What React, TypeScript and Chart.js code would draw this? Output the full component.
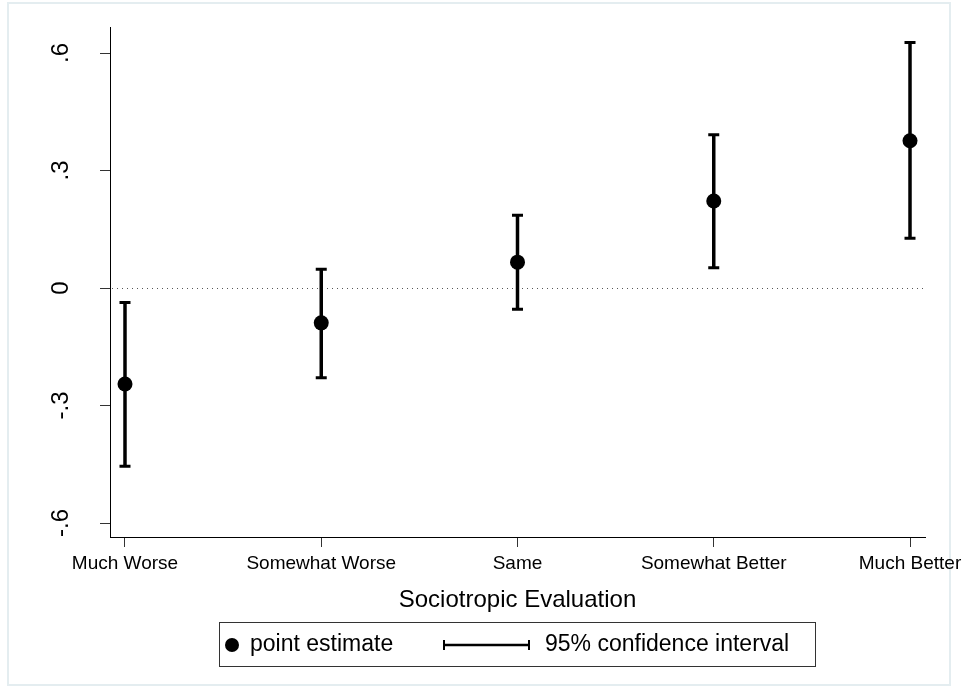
import React, { useEffect, useRef } from "react";
import { Chart, registerables } from "chart.js";

Chart.register(...registerables);

const categories = ["Much Worse", "Somewhat Worse", "Same", "Somewhat Better", "Much Better"];
const pointEstimates = [-0.245, -0.089, 0.066, 0.222, 0.376];
const ciLower = [-0.455, -0.229, -0.054, 0.052, 0.127];
const ciUpper = [-0.037, 0.048, 0.186, 0.391, 0.627];
const yTickValues = [-0.6, -0.3, 0, 0.3, 0.6];
const yTickLabels = ["-.6", "-.3", "0", ".3", ".6"];
const xAxisTitle = "Sociotropic Evaluation";
const legendLabels = ["point estimate", "95% confidence interval"];

const FONT = "'Liberation Sans', Arial, Helvetica, sans-serif";

const decorPlugin = {
  id: "decor",
  beforeDraw(chart: any) {
    const { ctx } = chart;
    ctx.save();
    ctx.fillStyle = "#fff";
    ctx.fillRect(0, 0, chart.width, chart.height);
    ctx.strokeStyle = "#e4edf0";
    ctx.lineWidth = 2;
    ctx.strokeRect(8, 3, 942, 682);
    ctx.restore();
  },
  beforeDatasetsDraw(chart: any) {
    const { ctx, chartArea, scales } = chart;
    const x = scales.x;
    const y = scales.y;
    ctx.save();
    // zero reference line
    ctx.strokeStyle = "#555";
    ctx.lineWidth = 1;
    ctx.setLineDash([1, 4]);
    const y0 = Math.round(y.getPixelForValue(0)) + 0.5;
    ctx.beginPath();
    ctx.moveTo(chartArea.left + 2, y0);
    ctx.lineTo(chartArea.right, y0);
    ctx.stroke();
    ctx.setLineDash([]);
    // confidence intervals
    ctx.strokeStyle = "#000";
    categories.forEach((_, i) => {
      const px = x.getPixelForValue(i);
      const pLo = y.getPixelForValue(ciLower[i]);
      const pHi = y.getPixelForValue(ciUpper[i]);
      ctx.lineWidth = 3.5;
      ctx.beginPath();
      ctx.moveTo(px, pLo);
      ctx.lineTo(px, pHi);
      ctx.stroke();
      ctx.lineWidth = 3;
      ctx.beginPath();
      ctx.moveTo(px - 5.5, pLo);
      ctx.lineTo(px + 5.5, pLo);
      ctx.moveTo(px - 5.5, pHi);
      ctx.lineTo(px + 5.5, pHi);
      ctx.stroke();
    });
    ctx.restore();
  },
  afterDraw(chart: any) {
    const { ctx, chartArea } = chart;
    ctx.save();
    // axis title
    ctx.fillStyle = "#000";
    ctx.font = `24px ${FONT}`;
    ctx.textAlign = "center";
    ctx.textBaseline = "middle";
    ctx.fillText(xAxisTitle, (chartArea.left + chartArea.right) / 2, 600);
    // legend box
    ctx.fillStyle = "#fff";
    ctx.fillRect(219.5, 622.5, 596, 44);
    ctx.strokeStyle = "#333";
    ctx.lineWidth = 1;
    ctx.strokeRect(219.5, 622.5, 596, 44);
    const ly = 645;
    ctx.fillStyle = "#000";
    ctx.beginPath();
    ctx.arc(232, ly, 7, 0, Math.PI * 2);
    ctx.fill();
    ctx.strokeStyle = "#000";
    ctx.lineWidth = 2.5;
    ctx.beginPath();
    ctx.moveTo(443, ly);
    ctx.lineTo(530, ly);
    ctx.stroke();
    ctx.lineWidth = 2;
    ctx.beginPath();
    ctx.moveTo(444, ly - 5);
    ctx.lineTo(444, ly + 5);
    ctx.moveTo(529, ly - 5);
    ctx.lineTo(529, ly + 5);
    ctx.stroke();
    ctx.font = `23px ${FONT}`;
    ctx.textAlign = "left";
    ctx.fillText(legendLabels[0], 250, ly);
    ctx.fillText(legendLabels[1], 545, ly);
    ctx.restore();
  },
};

export default function App() {
  const canvasRef = useRef<HTMLCanvasElement | null>(null);

  useEffect(() => {
    document.body.style.margin = "0";
    const canvas = canvasRef.current;
    if (!canvas) return;
    const chart = new Chart(canvas, {
      type: "scatter",
      data: {
        datasets: [
          {
            label: legendLabels[0],
            data: pointEstimates.map((v, i) => ({ x: i, y: v })),
            backgroundColor: "#000",
            borderColor: "#000",
            borderWidth: 0,
            pointRadius: 7.5,
            pointHoverRadius: 7.5,
          },
        ],
      },
      options: {
        animation: false,
        responsive: false,
        devicePixelRatio: 1,
        events: [],
        layout: { padding: { top: 27, right: 41, bottom: 0, left: 0 } },
        plugins: {
          legend: { display: false },
          tooltip: { enabled: false },
          title: { display: false },
        },
        scales: {
          x: {
            type: "linear",
            min: -0.0764,
            max: 4.0764,
            afterFit(scale: any) {
              scale.height = 150;
              scale.paddingLeft = 0;
              scale.paddingRight = 0;
            },
            afterBuildTicks(scale: any) {
              scale.ticks = categories.map((_, i) => ({ value: i }));
            },
            grid: {
              display: true,
              drawOnChartArea: false,
              drawTicks: true,
              tickLength: 10,
              color: "#333",
              lineWidth: 1,
            },
            border: { display: true, color: "#000", width: 1 },
            ticks: {
              autoSkip: false,
              maxRotation: 0,
              minRotation: 0,
              padding: 5,
              color: "#000",
              font: { family: FONT, size: 19 },
              callback: (v: any) => categories[Math.round(Number(v))] ?? "",
            },
          },
          y: {
            type: "linear",
            min: -0.6357,
            max: 0.6664,
            afterFit(scale: any) {
              scale.width = 110;
              scale.paddingTop = 0;
              scale.paddingBottom = 0;
            },
            afterBuildTicks(scale: any) {
              scale.ticks = yTickValues.map((v) => ({ value: v }));
            },
            grid: {
              display: true,
              drawOnChartArea: false,
              drawTicks: true,
              tickLength: 10,
              color: "#333",
              lineWidth: 1,
            },
            border: { display: true, color: "#000", width: 1 },
            ticks: {
              autoSkip: false,
              minRotation: 90,
              maxRotation: 90,
              crossAlign: "center",
              padding: 25,
              color: "#000",
              font: { family: FONT, size: 24 },
              callback: (v: any) => {
                const idx = yTickValues.findIndex((t) => Math.abs(t - Number(v)) < 1e-6);
                return idx >= 0 ? yTickLabels[idx] : "";
              },
            },
          },
        },
      },
      plugins: [decorPlugin],
    } as any);
    return () => chart.destroy();
  }, []);

  return (
    <div style={{ width: 966, height: 687, background: "#fff" }}>
      <canvas ref={canvasRef} width={966} height={687} style={{ display: "block" }} />
    </div>
  );
}
